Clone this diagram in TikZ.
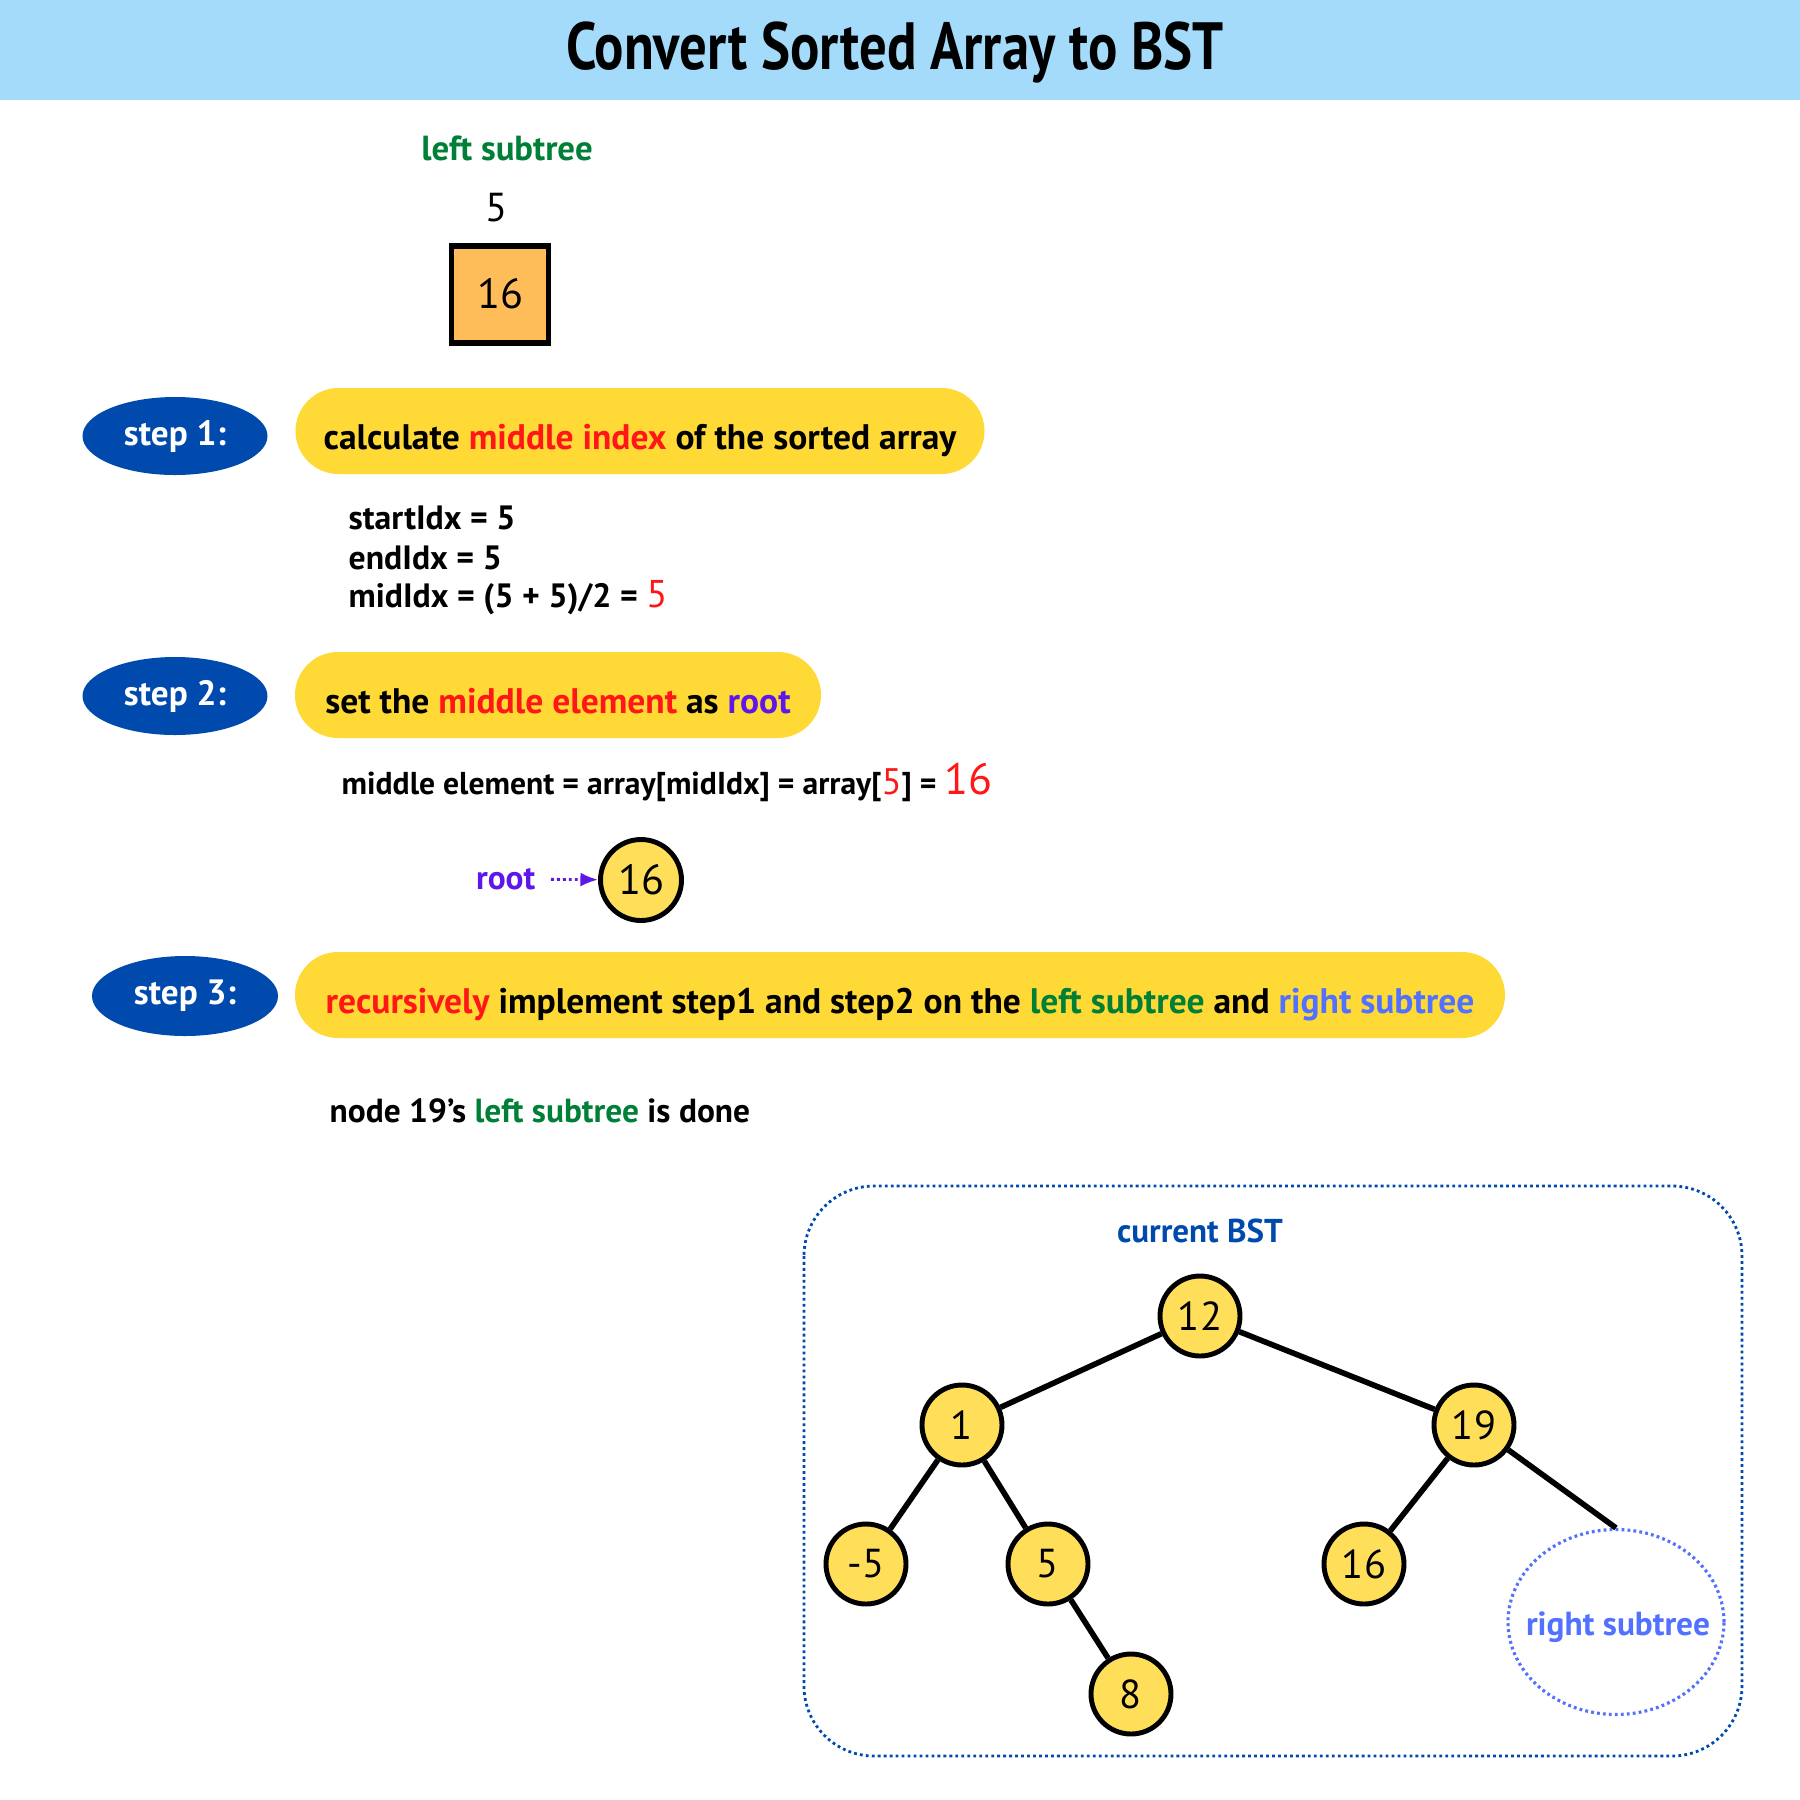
\documentclass[tikz,border=0pt]{standalone}
\usepackage{fontspec}
\setmainfont{PT Sans}
\newfontfamily\titlefont[FakeStretch=0.82]{PT Sans}
\usetikzlibrary{arrows.meta,positioning,shapes.geometric}
\definecolor{ctitle}{RGB}{164,218,250}
\definecolor{cblue}{RGB}{0,74,173}
\definecolor{cyel}{RGB}{255,217,54}
\definecolor{cnode}{RGB}{255,222,89}
\definecolor{cbox}{RGB}{255,189,89}
\definecolor{cred}{RGB}{255,22,22}
\definecolor{cgreen}{RGB}{0,128,55}
\definecolor{cpurple}{RGB}{94,23,235}
\definecolor{clblue}{RGB}{82,113,255}
\newcommand{\fs}[1]{\fontsize{#1}{1.2\dimexpr #1\relax}\selectfont}

\begin{document}
\begin{tikzpicture}[
        txt/.style={inner sep=0pt, font=\bfseries\fs{9.6pt}},
        stepblob/.style={ellipse, fill=cblue, text=white, inner sep=0pt, minimum width=1.85cm, minimum height=0.78cm, font=\bfseries\fs{10pt}},
        pill/.style={rectangle, rounded corners=0.43cm, fill=cyel, minimum height=0.86cm, text height=1.2em, text depth=0.14em, font=\bfseries\fs{10.1pt}},
        bst/.style={circle, draw, line width=1.4pt, fill=cnode, minimum size=0.8cm, inner sep=0pt, font=\fs{11.5pt}},
        link/.style={line width=1.6pt},
        dots/.style={line width=0.8pt, dash pattern=on 0.8pt off 0.9pt},
    ]
        \useasboundingbox (0,0) rectangle (18,-18);

        % Title bar
        \fill[ctitle] (0,0) rectangle (18,-1.0);
        \node[font=\titlefont\bfseries\fs{19pt}] (title) at (8.95,-0.52) {Convert Sorted Array to BST};

        % Current sub-array (left subtree of 19)
        \node[txt, text=cgreen, font=\bfseries\fs{9.9pt}] (lefttree) at (5.07,-1.48) {left subtree};
        \node[font=\fs{11.5pt}, inner sep=0pt] (idx5) at (4.97,-2.08) {5};
        \node[rectangle, draw, line width=1.7pt, fill=cbox, minimum size=0.97cm, font=\fs{12pt}] (cell) at (5.00,-2.94) {16};

        % Step 1
        \node[stepblob] (blob1) at (1.75,-4.36) {step 1:};
        \node[pill, minimum width=6.89cm] (pill1) at (6.40,-4.31) {calculate \textcolor{cred}{middle index} of the sorted array};
        \node[txt, anchor=west] (sidx) at (3.48,-5.18) {startIdx = 5};
        \node[txt, anchor=west] (eidx) at (3.48,-5.58) {endIdx = 5};
        \node[txt, anchor=west] (midx) at (3.48,-5.98) {midIdx = (5 + 5)/2 = \textcolor{cred}{\mdseries\fs{11pt}5}};

        % Step 2
        \node[stepblob] (blob2) at (1.75,-6.96) {step 2:};
        \node[pill, minimum width=5.26cm] (pill2) at (5.58,-6.95) {set the \textcolor{cred}{middle element} as \textcolor{cpurple}{root}};
        \node[txt, anchor=west, font=\bfseries\fs{9pt}] (midel) at (3.41,-7.82) {middle element = array[midIdx] = array[\textcolor{cred}{\mdseries\fs{10.5pt}5}] = \textcolor{cred}{\mdseries\fs{12.5pt}16}};
        \node[bst, minimum size=0.81cm, font=\fs{12pt}] (root16) at (6.41,-8.80) {16};
        \node[txt, text=cpurple, font=\bfseries\fs{9.5pt}, anchor=east] (rootlbl) at (5.36,-8.79) {root};
        \draw[cpurple, dots, -{Latex[length=5pt,width=4pt]}, shorten <=0.15cm] (rootlbl) -- (root16);

        % Step 3
        \node[stepblob, minimum width=1.86cm, minimum height=0.8cm] (blob3) at (1.85,-9.96) {step 3:};
        \node[pill, minimum width=12.10cm] (pill3) at (9.00,-9.95) {\textcolor{cred}{recursively} implement step1 and step2 on the \textcolor{cgreen}{left subtree} and \textcolor{clblue}{right subtree}};
        \node[txt, anchor=west, font=\bfseries\fs{9.5pt}] (done) at (3.29,-11.11) {node 19's \textcolor{cgreen}{left subtree} is done};

        % Current BST
        \draw[cblue, dots, rounded corners=0.7cm] (8.04,-11.86) rectangle (17.42,-17.56);
        \node[txt, text=cblue, font=\bfseries\fs{9.4pt}] (bstlbl) at (12.00,-12.31) {current BST};
        \node[bst] (n12) at (12.00,-13.16) {12};
        \node[bst] (n1) at (9.62,-14.25) {1};
        \node[bst] (n19) at (14.74,-14.25) {19};
        \node[bst] (nm5) at (8.66,-15.64) {-5};
        \node[bst] (n5) at (10.48,-15.64) {5};
        \node[bst] (n16) at (13.64,-15.64) {16};
        \node[bst] (n8) at (11.31,-16.94) {8};
        \node[ellipse, draw=clblue, dots, line width=0.9pt, minimum width=2.16cm, minimum height=1.85cm] (rsub) at (16.16,-16.22) {};
        \node[txt, text=clblue, font=\bfseries\fs{9.5pt}] (rsubtxt) at (16.18,-16.27) {right subtree};

        \draw[link] (n12) -- (n1);
        \draw[link] (n12) -- (n19);
        \draw[link] (n1) -- (nm5);
        \draw[link] (n1) -- (n5);
        \draw[link] (n5) -- (n8);
        \draw[link] (n19) -- (n16);
        \draw[link] (n19) -- (rsub.north);
    \end{tikzpicture}
\end{document}
